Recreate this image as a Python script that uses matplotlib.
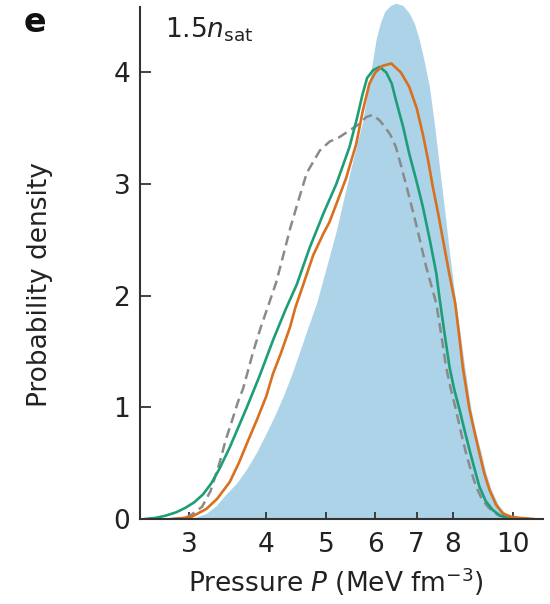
import matplotlib
matplotlib.use("Agg")
import matplotlib.pyplot as plt
from matplotlib.ticker import FixedLocator, FixedFormatter, NullLocator

plt.rcParams["font.family"] = ["DejaVu Sans"]
plt.rcParams["mathtext.fontset"] = "dejavusans"

# values (pressure in MeV fm^-3, probability density)
fill_p = [2.95, 3.05, 3.2, 3.32, 3.44, 3.58, 3.72, 3.86, 4.0, 4.13, 4.26, 4.4,
          4.53, 4.66, 4.82, 5.0, 5.2, 5.33, 5.52, 5.73, 5.9, 6.02, 6.12, 6.22,
          6.35, 6.48, 6.65, 6.81, 6.95, 7.07, 7.2, 7.34, 7.48, 7.62, 7.77, 7.91,
          8.1, 8.24, 8.37, 8.57, 8.73, 8.9, 9.06, 9.24, 9.5, 9.75, 10.05, 10.4]
fill_d = [0.0, 0.01, 0.05, 0.12, 0.22, 0.32, 0.45, 0.6, 0.77, 0.93, 1.1, 1.3,
          1.5, 1.7, 1.93, 2.25, 2.6, 2.86, 3.21, 3.57, 4.0, 4.3, 4.45, 4.55,
          4.6, 4.62, 4.6, 4.53, 4.43, 4.29, 4.1, 3.87, 3.53, 3.15, 2.76, 2.38,
          1.93, 1.64, 1.36, 0.98, 0.77, 0.59, 0.41, 0.26, 0.12, 0.05, 0.015, 0.0]

green_p = [2.55, 2.65, 2.75, 2.86, 2.96, 3.06, 3.16, 3.26, 3.36, 3.49, 3.61, 3.72,
           3.9, 4.1, 4.3, 4.48, 4.7, 4.95, 5.19, 5.45, 5.6, 5.72, 5.82, 5.95,
           6.1, 6.25, 6.38, 6.48, 6.65, 6.81, 7.0, 7.16, 7.35, 7.53, 7.62, 7.77,
           7.91, 8.05, 8.21, 8.36, 8.52, 8.68, 8.84, 9.05, 9.29, 9.55, 9.88, 10.5]
green_d = [0.0, 0.01, 0.03, 0.06, 0.1, 0.15, 0.22, 0.32, 0.45, 0.64, 0.83, 1.0,
           1.28, 1.6, 1.88, 2.1, 2.43, 2.74, 3.0, 3.33, 3.58, 3.8, 3.95, 4.02,
           4.05, 4.0, 3.9, 3.75, 3.52, 3.27, 3.02, 2.8, 2.5, 2.2, 1.98, 1.65,
           1.36, 1.16, 0.98, 0.8, 0.62, 0.45, 0.29, 0.16, 0.08, 0.03, 0.01, 0.0]

orange_p = [2.85, 3.03, 3.2, 3.33, 3.49, 3.61, 3.73, 3.87, 4.0, 4.1, 4.22, 4.37,
            4.46, 4.59, 4.76, 4.95, 5.06, 5.19, 5.38, 5.59, 5.73, 5.87, 6.0, 6.17,
            6.37, 6.6, 6.81, 7.0, 7.16, 7.3, 7.43, 7.58, 7.72, 7.9, 8.08, 8.2,
            8.31, 8.42, 8.52, 8.68, 8.84, 9.0, 9.18, 9.4, 9.64, 9.95, 10.26, 10.8]
orange_d = [0.0, 0.02, 0.09, 0.18, 0.33, 0.5, 0.69, 0.9, 1.1, 1.3, 1.48, 1.72,
            1.9, 2.1, 2.36, 2.56, 2.66, 2.82, 3.05, 3.36, 3.66, 3.9, 4.0, 4.06,
            4.08, 4.0, 3.87, 3.68, 3.45, 3.22, 2.98, 2.74, 2.5, 2.2, 1.93, 1.64,
            1.36, 1.16, 0.98, 0.78, 0.59, 0.41, 0.26, 0.13, 0.05, 0.02, 0.01, 0.0]

gray_p = [2.8, 2.96, 3.03, 3.15, 3.25, 3.36, 3.44, 3.53, 3.6, 3.67, 3.81, 3.92,
          4.04, 4.15, 4.26, 4.37, 4.5, 4.65, 4.88, 5.06, 5.25, 5.45, 5.66, 5.8,
          5.94, 6.1, 6.22, 6.35, 6.48, 6.6, 6.74, 7.0, 7.25, 7.53, 7.67, 7.81,
          7.95, 8.1, 8.25, 8.41, 8.57, 8.73, 8.92, 9.12, 9.32, 9.52, 10.0]
gray_d = [0.0, 0.01, 0.04, 0.11, 0.25, 0.5, 0.71, 0.9, 1.05, 1.17, 1.5, 1.72,
          1.93, 2.12, 2.36, 2.6, 2.84, 3.1, 3.3, 3.38, 3.42, 3.48, 3.54, 3.6,
          3.62, 3.57, 3.51, 3.44, 3.33, 3.17, 2.98, 2.62, 2.26, 1.93, 1.65, 1.36,
          1.16, 0.98, 0.78, 0.59, 0.43, 0.29, 0.18, 0.11, 0.06, 0.03, 0.0]

xticks = [3, 4, 5, 6, 7, 8, 10]
yticks = [0, 1, 2, 3, 4]

W, H = 550, 604
fig = plt.figure(figsize=(W / 100, H / 100), dpi=100)
ax = fig.add_axes([140 / W, (H - 519) / H, 403 / W, 518 / H])

ax.fill_between(fill_p, fill_d, 0, color="#acd3e8", lw=0)
ax.plot(gray_p, gray_d, color="#8a8a8a", lw=1.8, dashes=(4, 2.2))
ax.plot(green_p, green_d, color="#1e9e78", lw=1.9)
ax.plot(orange_p, orange_d, color="#d8701f", lw=1.9)

ax.set_xscale("log")
ax.set_xlim(2.5, 11.2)
ax.set_ylim(0, 4.64)
ax.xaxis.set_major_locator(FixedLocator(xticks))
ax.xaxis.set_major_formatter(FixedFormatter([str(t) for t in xticks]))
ax.xaxis.set_minor_locator(NullLocator())
ax.set_yticks(yticks)

for side in ("top", "right"):
    ax.spines[side].set_visible(False)
for side in ("left", "bottom"):
    ax.spines[side].set_color("#333333")
    ax.spines[side].set_linewidth(1.5)
ax.spines["left"].set_bounds(0, 4.59)

ax.tick_params(axis="both", direction="in", colors="#333333", labelcolor="#222222",
               labelsize=19, width=1.3)
ax.tick_params(axis="y", length=8, pad=7)
ax.tick_params(axis="x", length=5, pad=9)

ax.set_xlabel(r"Pressure $P$ (MeV fm$^{-3}$)", fontsize=19, color="#222222",
              va="center")
ax.xaxis.set_label_coords(0.485, -0.122)
ax.set_ylabel("Probability density", fontsize=19, color="#222222", va="center")
ax.yaxis.set_label_coords(-0.248, 0.452)

ax.text(0.062, 0.972, r"1.5$n_{\mathrm{sat}}$", transform=ax.transAxes, fontsize=19,
        color="#222222", va="top", ha="left")
fig.text(24 / W, 1 - 32 / H, "e", fontsize=24, fontweight="bold", va="baseline",
         ha="left", color="#111111")

fig.savefig("out.png", dpi=100)
